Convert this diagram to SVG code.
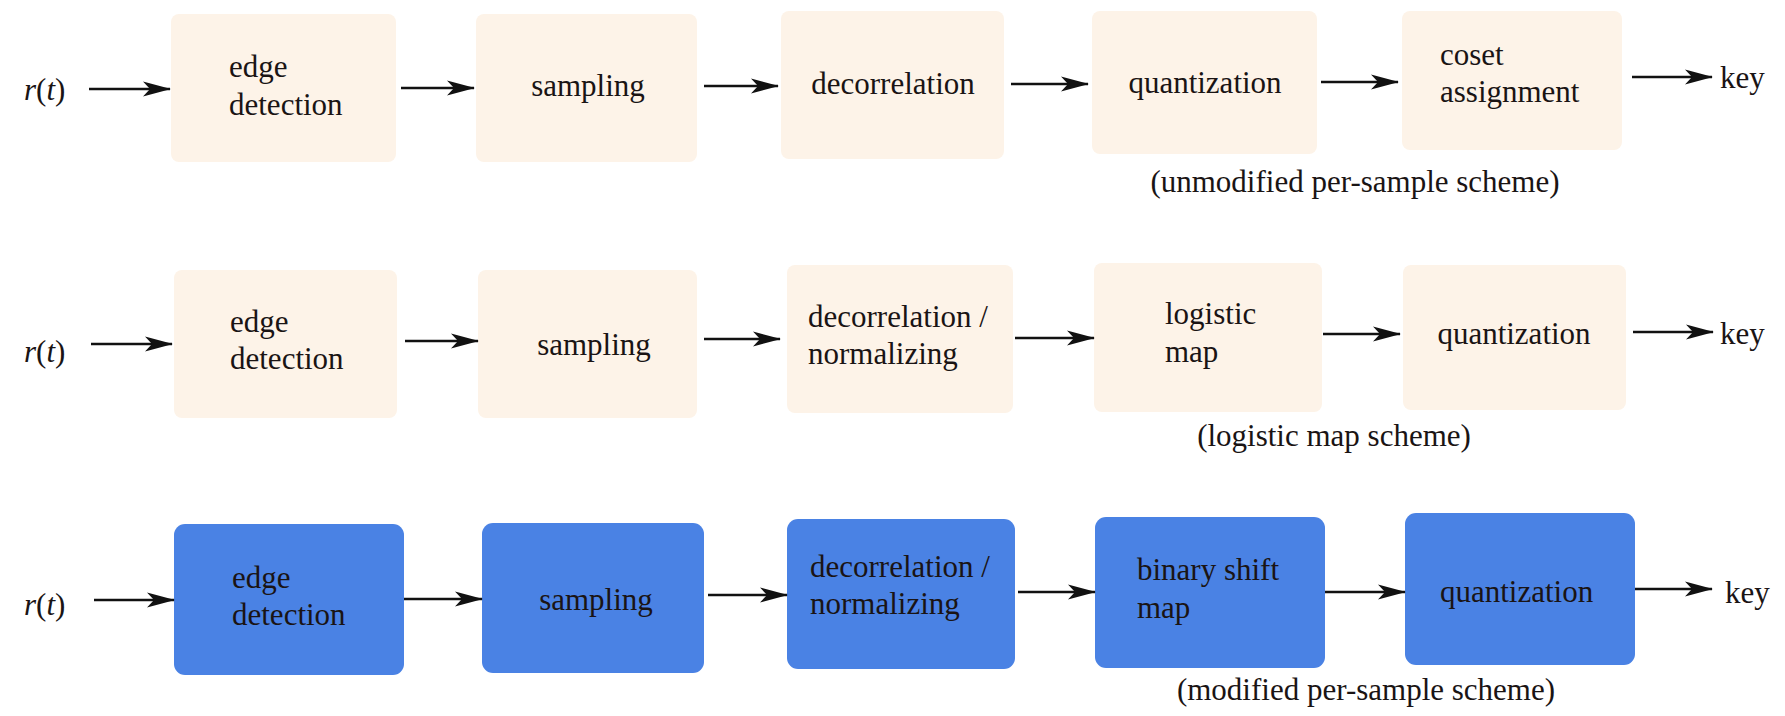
<svg xmlns="http://www.w3.org/2000/svg" width="1785" height="716" viewBox="0 0 1785 716">
<defs>
<marker id="ah" markerUnits="userSpaceOnUse" viewBox="0 0 28 16" markerWidth="28" markerHeight="16" refX="27" refY="8" orient="auto">
<path d="M0,0.5 L28,8 L0,15.5 L7,8 z" fill="#111"/>
</marker>
<style>
text{font-family:"Liberation Serif","Times New Roman",serif;font-size:31px;fill:#1a1414}
.pale{fill:#fdf3e8}
.blue{fill:#4a82e4}
.c{text-anchor:middle}
.arr{stroke:#111;stroke-width:2.6;fill:none;marker-end:url(#ah)}
</style>
</defs>
<rect width="1785" height="716" fill="#ffffff"/>

<!-- Row 1 -->
<g id="r1-in"><text x="24" y="100" font-size="33"><tspan font-style="italic">r</tspan>(<tspan font-style="italic">t</tspan>)</text></g>
<g id="r1-edge"><rect class="pale" x="171" y="14" width="225" height="148" rx="8"/><text x="229" y="77">edge</text><text x="229" y="115">detection</text></g>
<g id="r1-sampling"><rect class="pale" x="476" y="14" width="221" height="148" rx="8"/><text class="c" x="588" y="96">sampling</text></g>
<g id="r1-decor"><rect class="pale" x="781" y="11" width="223" height="148" rx="8"/><text class="c" x="893" y="94">decorrelation</text></g>
<g id="r1-quant"><rect class="pale" x="1092" y="11" width="225" height="143" rx="8"/><text class="c" x="1205" y="93">quantization</text></g>
<g id="r1-coset"><rect class="pale" x="1402" y="11" width="220" height="139" rx="8"/><text x="1440" y="65">coset</text><text x="1440" y="102">assignment</text></g>
<g id="r1-key"><text x="1720" y="88">key</text></g>
<g id="r1-caption"><text class="c" x="1355" y="192">(unmodified per-sample scheme)</text></g>

<!-- Row 2 -->
<g id="r2-in"><text x="24" y="362" font-size="33"><tspan font-style="italic">r</tspan>(<tspan font-style="italic">t</tspan>)</text></g>
<g id="r2-edge"><rect class="pale" x="174" y="270" width="223" height="148" rx="8"/><text x="230" y="332">edge</text><text x="230" y="369">detection</text></g>
<g id="r2-sampling"><rect class="pale" x="478" y="270" width="219" height="148" rx="8"/><text class="c" x="594" y="355">sampling</text></g>
<g id="r2-decor"><rect class="pale" x="787" y="265" width="226" height="148" rx="8"/><text x="808" y="327">decorrelation /</text><text x="808" y="364">normalizing</text></g>
<g id="r2-logistic"><rect class="pale" x="1094" y="263" width="228" height="149" rx="8"/><text x="1165" y="324">logistic</text><text x="1165" y="362">map</text></g>
<g id="r2-quant"><rect class="pale" x="1403" y="265" width="223" height="145" rx="8"/><text class="c" x="1514" y="344">quantization</text></g>
<g id="r2-key"><text x="1720" y="344">key</text></g>
<g id="r2-caption"><text class="c" x="1334" y="446">(logistic map scheme)</text></g>

<!-- Row 3 -->
<g id="r3-in"><text x="24" y="615" font-size="33"><tspan font-style="italic">r</tspan>(<tspan font-style="italic">t</tspan>)</text></g>
<g id="r3-edge"><rect class="blue" x="174" y="524" width="230" height="151" rx="11"/><text x="232" y="588">edge</text><text x="232" y="625">detection</text></g>
<g id="r3-sampling"><rect class="blue" x="482" y="523" width="222" height="150" rx="11"/><text class="c" x="596" y="610">sampling</text></g>
<g id="r3-decor"><rect class="blue" x="787" y="519" width="228" height="150" rx="11"/><text x="810" y="577">decorrelation /</text><text x="810" y="614">normalizing</text></g>
<g id="r3-binary"><rect class="blue" x="1095" y="517" width="230" height="151" rx="11"/><text x="1137" y="580">binary shift</text><text x="1137" y="618">map</text></g>
<g id="r3-quant"><rect class="blue" x="1405" y="513" width="230" height="152" rx="11"/><text x="1440" y="602">quantization</text></g>
<g id="r3-key"><text x="1725" y="603">key</text></g>
<g id="r3-caption"><text class="c" x="1366" y="700">(modified per-sample scheme)</text></g>

<g id="connectors">
<line class="arr" x1="89" y1="89" x2="170" y2="89"/>
<line class="arr" x1="401" y1="88" x2="474" y2="88"/>
<line class="arr" x1="704" y1="86" x2="778" y2="86"/>
<line class="arr" x1="1011" y1="84" x2="1088" y2="84"/>
<line class="arr" x1="1321" y1="82" x2="1398" y2="82"/>
<line class="arr" x1="1632" y1="77" x2="1712" y2="77"/>

<line class="arr" x1="91" y1="344" x2="172" y2="344"/>
<line class="arr" x1="405" y1="341" x2="478" y2="341"/>
<line class="arr" x1="704" y1="339" x2="780" y2="339"/>
<line class="arr" x1="1015" y1="338" x2="1094" y2="338"/>
<line class="arr" x1="1323" y1="334" x2="1400" y2="334"/>
<line class="arr" x1="1633" y1="332" x2="1713" y2="332"/>

<line class="arr" x1="94" y1="600" x2="174" y2="600"/>
<line class="arr" x1="404" y1="599" x2="482" y2="599"/>
<line class="arr" x1="708" y1="595" x2="787" y2="595"/>
<line class="arr" x1="1018" y1="592" x2="1095" y2="592"/>
<line class="arr" x1="1325" y1="592" x2="1405" y2="592"/>
<line class="arr" x1="1635" y1="589" x2="1712" y2="589"/>
</g>
</svg>
